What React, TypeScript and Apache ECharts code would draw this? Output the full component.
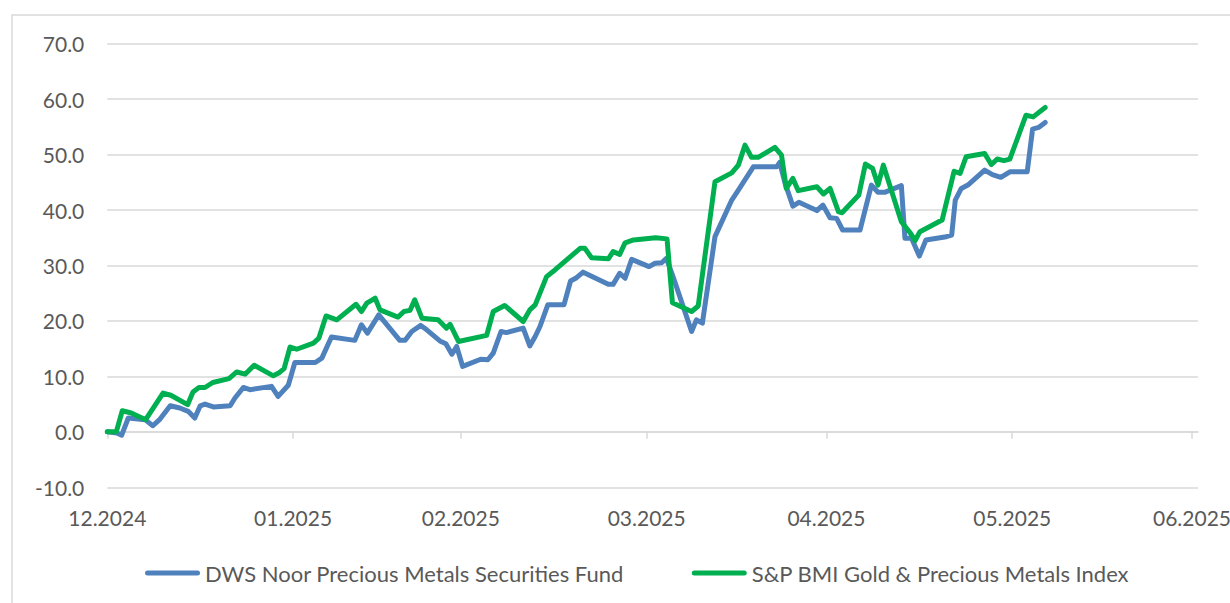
import React, { useEffect, useRef } from "react";
import * as echarts from "echarts";

// x values are days counted from 31.12.2024 (month-end ticks)
const tickDays = [0, 31, 59, 90, 120, 151, 181];
const tickLabels = ["12.2024", "01.2025", "02.2025", "03.2025", "04.2025", "05.2025", "06.2025"];
const yTicks = { min: -10, max: 70, step: 10 };

const seriesNames = ["DWS Noor Precious Metals Securities Fund", "S&P BMI Gold & Precious Metals Index"];

const dwsDays = [
  0, 1.6, 2.4, 3.5, 6.3, 7.6, 8.8, 10.5, 12.1, 13.5, 14.6, 15.5, 16.3, 17.7, 20.5, 21.3, 22.7, 23.8,
  27.4, 28.5, 30.2, 31.3, 34.7, 35.8, 37.4, 41.3, 42.4, 43.4, 45.3, 48.8, 49.7, 50.8, 52.3, 53.3,
  55.5, 56.5, 57.5, 58.3, 59.3, 62.3, 63.5, 64.4, 65.7, 66.6, 69.4, 70.5, 71.4, 72.2, 73.5, 76.2,
  77.3, 78.3, 79.4, 83.6, 84.4, 85.5, 86.4, 87.5, 90.4, 91.4, 92.5, 93.3, 94.4, 97.5, 98.3, 99.3,
  101.4, 104.2, 105.3, 107.8, 111.7, 112.2, 113.1, 114.4, 115.4, 118.4, 119.4, 120.6, 121.7, 122.7,
  125.6, 127.5, 128.6, 129.7, 132.5, 133.1, 134.2, 135.5, 136.6, 140.0, 140.9, 141.5, 142.5, 143.6,
  146.4, 147.7, 149.1, 150.6, 153.5, 154.4, 155.4, 156.5,
];
const dwsValues = [
  0.0, -0.2, -0.6, 2.5, 2.2, 1.1, 2.3, 4.7, 4.3, 3.7, 2.5, 4.7, 5.0, 4.5, 4.7, 6.1, 8.0, 7.6,
  8.2, 6.4, 8.4, 12.5, 12.5, 13.3, 17.1, 16.5, 19.3, 17.8, 21.1, 16.5, 16.5, 18.1, 19.2, 18.4,
  16.4, 15.9, 14.0, 15.4, 11.8, 13.1, 13.0, 14.2, 18.1, 17.9, 18.7, 15.5, 17.2, 19.0, 22.9, 22.9,
  27.2, 27.8, 28.8, 26.6, 26.6, 28.6, 27.7, 31.1, 29.8, 30.4, 30.5, 31.3, 28.0, 18.1, 20.2, 19.6,
  35.2, 41.8, 43.6, 47.8, 47.8, 48.6, 44.8, 40.7, 41.4, 39.9, 40.9, 38.6, 38.5, 36.4,
  36.4, 44.5, 43.2, 43.2, 44.4, 34.9, 34.9, 31.7, 34.6, 35.2, 35.5, 41.8, 43.9, 44.5,
  47.2, 46.4, 45.9, 46.9, 46.9, 54.6, 54.9, 55.8,
];

const spDays = [
  0, 1.5, 2.5, 4.0, 6.4, 9.3, 10.6, 13.4, 14.3, 15.3, 16.3, 17.6, 20.3, 21.6, 23.0, 24.5, 27.7, 28.6,
  29.5, 30.5, 31.6, 34.4, 35.3, 36.5, 38.3, 41.5, 42.4, 43.3, 44.7, 45.5, 48.5, 49.5, 50.5, 51.3,
  52.5, 55.2, 56.6, 57.2, 58.6, 63.3, 64.4, 66.3, 69.4, 70.5, 71.4, 73.3, 74.7, 78.9, 79.7, 80.8,
  83.6, 84.4, 85.5, 86.4, 87.8, 91.5, 93.4, 94.3, 97.5, 98.6, 101.4, 104.2, 105.3, 106.4, 107.5,
  108.6, 111.4, 112.5, 113.3, 114.4, 115.3, 118.4, 119.5, 120.6, 122.0, 122.6, 125.4, 126.5, 127.7,
  128.6, 129.5, 132.5, 133.9, 134.8, 135.6, 139.3, 141.3, 142.3, 143.3, 146.4, 147.5, 148.5, 149.6,
  150.6, 153.3, 154.5, 156.5,
];
const spValues = [
  0.0, 0.0, 3.8, 3.4, 2.2, 7.0, 6.6, 4.9, 7.2, 8.0, 8.0, 8.9, 9.6, 10.8, 10.4, 12.0, 10.1, 10.6,
  11.4, 15.3, 14.9, 16.0, 16.9, 20.9, 20.2, 23.0, 21.7, 23.2, 24.1, 22.0, 20.7, 21.7, 21.9, 23.8,
  20.5, 20.2, 18.7, 19.4, 16.3, 17.4, 21.7, 22.8, 19.9, 22.0, 22.9, 28.0, 29.2, 33.1, 33.1, 31.4,
  31.2, 32.5, 32.0, 34.1, 34.6, 35.0, 34.8, 23.3, 21.7, 22.7, 45.1, 46.7, 48.1, 51.7, 49.5,
  49.5, 51.3, 49.9, 43.9, 45.7, 43.5, 44.2, 42.9, 43.9, 39.7, 39.5, 42.7, 48.3, 47.5,
  44.5, 48.1, 37.9, 36.0, 34.5, 36.1, 38.2, 47.0, 46.6, 49.6, 50.2, 48.2, 49.2, 48.9,
  49.2, 57.1, 56.8, 58.5,
];

const FONT = "Lato";
const TEXT_COLOR = "#595959";
const GRID_COLOR = "#D9D9D9";

const labelFor = (v: number) => {
  const i = tickDays.indexOf(Math.round(v));
  return i >= 0 ? tickLabels[i] : "";
};

export default function App() {
  const ref = useRef<HTMLDivElement>(null);

  useEffect(() => {
    if (!ref.current) return;
    const chart = echarts.init(ref.current, null, { renderer: "svg" });
    const legendIcon = "path://M2.5,0 L52.5,0 A2.5,2.5,0,0,1,52.5,5 L2.5,5 A2.5,2.5,0,0,1,2.5,0 Z";
    chart.setOption({
      animation: false,
      backgroundColor: "#ffffff",
      textStyle: { fontFamily: FONT },
      graphic: [
        {
          type: "rect",
          shape: { x: 12, y: 15, width: 1300, height: 700 },
          style: { fill: "none", stroke: GRID_COLOR, lineWidth: 1.5 },
          silent: true,
          z: -10,
        },
      ],
      grid: {
        left: 107.3,
        right: 32,
        top: 43.7,
        bottom: 115.7,
        containLabel: false,
        outerBoundsMode: "none",
      },
      legend: {
        left: 140,
        top: 557,
        itemWidth: 55,
        itemHeight: 5,
        itemGap: 68,
        icon: legendIcon,
        textStyle: { color: TEXT_COLOR, fontSize: 22, fontFamily: FONT },
        data: seriesNames,
      },
      xAxis: [
        {
          type: "value",
          min: 0,
          max: 182,
          position: "bottom",
          axisLine: { show: false, onZero: false },
          axisTick: { show: false },
          splitLine: { show: false },
          axisLabel: {
            customValues: tickDays,
            formatter: labelFor,
            color: TEXT_COLOR,
            fontSize: 21,
            fontFamily: FONT,
            margin: 20,
            showMinLabel: true,
            showMaxLabel: true,
            hideOverlap: false,
          },
        },
        {
          type: "value",
          min: 0,
          max: 182,
          position: "top",
          axisLine: { show: true, onZero: true, lineStyle: { color: GRID_COLOR, width: 1.5 } },
          axisTick: {
            show: true,
            inside: true,
            length: 7,
            customValues: tickDays,
            lineStyle: { color: GRID_COLOR, width: 1.5 },
          },
          axisLabel: { show: false },
          splitLine: { show: false },
        },
      ],
      yAxis: {
        type: "value",
        min: yTicks.min,
        max: yTicks.max,
        interval: yTicks.step,
        axisLine: { show: false },
        axisTick: { show: false },
        splitLine: { show: true, lineStyle: { color: GRID_COLOR, width: 1.5 } },
        axisLabel: {
          formatter: (v: number) => v.toFixed(1),
          color: TEXT_COLOR,
          fontSize: 21,
          fontFamily: FONT,
          margin: 23,
        },
      },
      series: [
        {
          name: seriesNames[0],
          type: "line",
          xAxisIndex: 0,
          symbol: "none",
          showSymbol: false,
          color: "#4F81BD",
          lineStyle: { width: 5, color: "#4F81BD", cap: "round", join: "round" },
          data: dwsDays.map((d, i) => [d, dwsValues[i]]),
        },
        {
          name: seriesNames[1],
          type: "line",
          xAxisIndex: 0,
          symbol: "none",
          showSymbol: false,
          color: "#00B050",
          lineStyle: { width: 5, color: "#00B050", cap: "round", join: "round" },
          data: spDays.map((d, i) => [d, spValues[i]]),
        },
      ],
    });
    return () => chart.dispose();
  }, []);

  return (
    <div
      ref={ref}
      style={{ position: "absolute", left: 0, top: 0, width: 1230, height: 603, background: "#fff" }}
    />
  );
}
